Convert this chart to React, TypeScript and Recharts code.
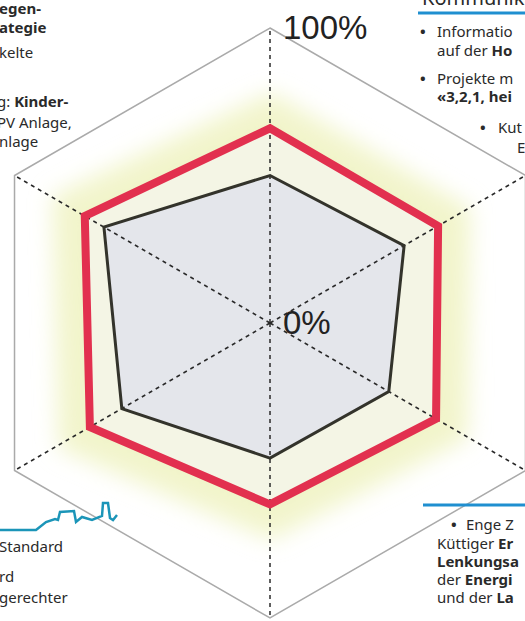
import React from "react"
import { RadarChart, Radar, PolarGrid, PolarAngleAxis, PolarRadiusAxis } from "recharts"

// six axes, clockwise from the top
const axes = ["Strategie", "Kommunikation", "Versorgung", "Zusammenarbeit", "Gebäude", "Planung"]
const actual = [50, 52.5, 46.5, 45.8, 58, 65]
const target = [66, 65.8, 65, 61.5, 70.5, 72.5]
const radiusTicks = [0, 100]

const data = axes.map((axis, i) => ({ axis, actual: actual[i], target: target[i] }))

const textFont = "'Noto Sans', sans-serif"
const layer: React.CSSProperties = { position: "absolute", left: 0, top: 0 }

const RadiusTick = ({ x, y, payload }: any) => (
  <text
    x={x + 13}
    y={y + 11}
    fontFamily="'Liberation Sans', Arial, sans-serif"
    fontSize={33}
    fill="#222"
    textAnchor="start"
  >
    {payload.value}%
  </text>
)

function SideTexts() {
  return (
    <svg width={525} height={621} style={{ ...layer, pointerEvents: "none" }}>
      <g fontFamily={textFont} fontSize={15} fill="#2a2a2a">
        {/* top left */}
        <text x={-1} y={14} fontWeight="bold">egen-</text>
        <text x={-1} y={33} fontWeight="bold">ategie</text>
        <text x={-1} y={58}>kelte</text>
        <text x={-3} y={107}>g: <tspan fontWeight="bold">Kinder-</tspan></text>
        <text x={-3} y={128}>PV Anlage,</text>
        <text x={-1} y={147}>nlage</text>

        {/* top right */}
        <text x={422} y={5} fontSize={20}>Kommunikation</text>
        <text x={420} y={37} fontWeight="bold">•</text>
        <text x={437} y={37}>Informatio</text>
        <text x={437} y={56}>auf der <tspan fontWeight="bold">Ho</tspan></text>
        <text x={420} y={84} fontWeight="bold">•</text>
        <text x={437} y={84}>Projekte m</text>
        <text x={437} y={102} fontWeight="bold">«3,2,1, hei</text>
        <text x={480} y={133} fontWeight="bold">•</text>
        <text x={498} y={133}>Kut</text>
        <text x={517} y={153}>E</text>

        {/* bottom left */}
        <text x={-1} y={552}>Standard</text>
        <text x={-1} y={582}>rd</text>
        <text x={-1} y={603}>gerechter</text>

        {/* bottom right */}
        <text x={451} y={530} fontWeight="bold">•</text>
        <text x={466} y={530}>Enge Z</text>
        <text x={437} y={549}>Küttiger <tspan fontWeight="bold">Er</tspan></text>
        <text x={437} y={567} fontWeight="bold">Lenkungsa</text>
        <text x={437} y={585}>der <tspan fontWeight="bold">Energi</tspan></text>
        <text x={437} y={603}>und der <tspan fontWeight="bold">La</tspan></text>
      </g>
      <line x1={418} y1={13} x2={525} y2={13} stroke="#1f8fd0" strokeWidth={3} />
      <line x1={423} y1={505} x2={525} y2={505} stroke="#1f8fd0" strokeWidth={3} />
      <path
        d="M0 530 L36 530 L46 522 L55 519 L58 520 L60 512 L74 511 L76 522 L82 517 L92 520 L102 516 L103 503 L108 503 L110 518 L113 520 L117 515"
        fill="none"
        stroke="#1b95b8"
        strokeWidth={2.5}
      />
    </svg>
  )
}

const chartProps = {
  width: 525,
  height: 621,
  data,
  cx: 270,
  cy: 323,
  outerRadius: 295,
  margin: { top: 0, right: 0, bottom: 0, left: 0 },
}

export default function App() {
  return (
    <div style={{ position: "fixed", left: 0, top: 0, width: 525, height: 621, overflow: "hidden", background: "#fff" }}>
      <svg width={0} height={0} style={{ position: "absolute" }}>
        <defs>
          <filter id="glow" x="-20%" y="-20%" width="140%" height="140%">
            <feGaussianBlur stdDeviation={11} />
          </filter>
        </defs>
      </svg>

      {/* under layer: outline, glow and fills */}
      <div style={layer}>
        <RadarChart {...chartProps}>
          <PolarAngleAxis
            dataKey="axis"
            tick={false}
            axisLineType="polygon"
            axisLine={{ stroke: "#aaaaaa", strokeWidth: 1.5 }}
          />
          <PolarRadiusAxis angle={90} domain={[0, 100]} ticks={radiusTicks} tick={false} axisLine={false} tickLine={false} />
          <Radar
            dataKey="target"
            stroke="#eef2bc"
            strokeWidth={64}
            strokeOpacity={0.75}
            fill="#f2f4dc"
            fillOpacity={1}
            filter="url(#glow)"
            isAnimationActive={false}
          />
          <Radar dataKey="target" stroke="none" fill="#f4f5e5" fillOpacity={1} isAnimationActive={false} />
          <Radar dataKey="actual" stroke="none" fill="#e4e6eb" fillOpacity={1} isAnimationActive={false} />
        </RadarChart>
      </div>

      {/* top layer: dashed axes, outlines, labels */}
      <div style={layer}>
        <RadarChart {...chartProps}>
          <PolarAngleAxis dataKey="axis" tick={false} axisLine={false} />
          <PolarRadiusAxis
            angle={90}
            domain={[0, 100]}
            ticks={radiusTicks}
            tick={RadiusTick}
            axisLine={false}
            tickLine={false}
          />
          <PolarGrid
            gridType="polygon"
            polarRadius={[0]}
            stroke="#2a2a2a"
            strokeWidth={1.5}
            strokeDasharray="4 4"
          />
          <Radar dataKey="actual" stroke="#33332b" strokeWidth={3} fill="none" isAnimationActive={false} />
          <Radar
            dataKey="target"
            stroke="#e2304f"
            strokeWidth={8}
            strokeLinejoin="miter"
            fill="none"
            isAnimationActive={false}
          />
        </RadarChart>
      </div>

      <SideTexts />
    </div>
  )
}
